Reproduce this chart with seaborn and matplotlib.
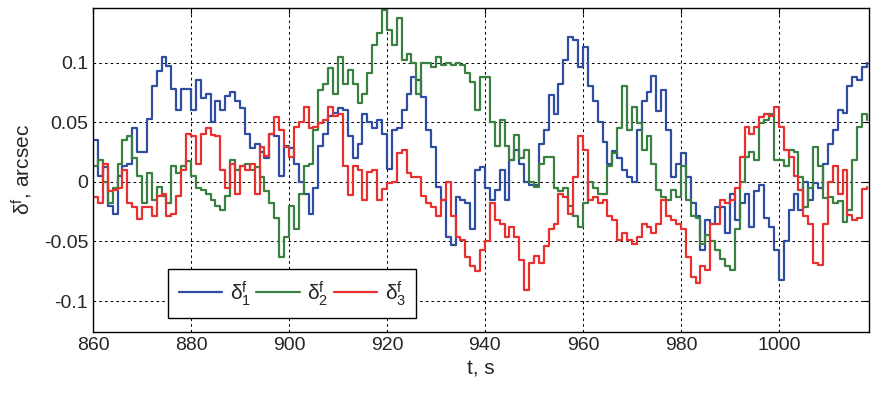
import numpy as np
import pandas as pd
import matplotlib
matplotlib.use("Agg")
import matplotlib.pyplot as plt
import seaborn as sns

# time axis, 1 s steps
t = np.arange(860, 1019)

# delta_1^f (blue)
delta1 = [
    0.035, 0.005, 0.012, -0.02, -0.027, 0.005, 0.013, 0.015, 0.045, 0.025,
    0.025, 0.053, 0.08, 0.093, 0.105, 0.097, 0.078, 0.06, 0.078, 0.078,
    0.06, 0.085, 0.07, 0.074, 0.05,
    0.068, 0.06, 0.072, 0.075, 0.068, 0.062, 0.04, 0.028, 0.032, 0.025,
    0.02, 0.04, 0.038, 0.005, 0.03, 0.028, 0.015, 0.0, -0.01, -0.027,
    -0.005, 0.03, 0.04, 0.055, 0.058, 0.062,
    0.06, 0.038, 0.02, 0.032, 0.057, 0.05, 0.045, 0.052, 0.04, 0.011,
    0.043, 0.045, 0.06, 0.074, 0.088, 0.085, 0.071, 0.043, 0.029, -0.004,
    -0.015, -0.046, -0.053, -0.013, -0.015, -0.018, -0.04,
    0.01, 0.012, -0.005, -0.015, -0.007, 0.01, -0.015, 0.018, 0.027, 0.015,
    0.0, -0.003, -0.003, 0.032, 0.043, 0.073, 0.057, 0.082, 0.102, 0.121,
    0.119, 0.096, 0.113, 0.08, 0.068, 0.05, 0.033,
    0.015, 0.026, 0.02, 0.01, 0.004, 0.0, 0.043, 0.068, 0.075, 0.089,
    0.059, 0.077, 0.043, 0.004, 0.015, 0.024, 0.004, -0.018, -0.029, -0.057,
    -0.032, -0.035, -0.021, -0.021, -0.043, -0.01,
    -0.032, -0.018, -0.01, -0.038, -0.008, -0.003, -0.03, -0.038, -0.057, -0.082,
    -0.05, -0.024, -0.01, -0.024, 0.0, -0.015, -0.001, -0.005, 0.015, 0.032,
    0.043, 0.06, 0.058, 0.08, 0.088, 0.085, 0.096, 0.1,
]

# delta_2^f (green)
delta2 = [
    0.013, 0.018, 0.0, -0.018, -0.005, 0.015, 0.035, 0.038, 0.02, 0.005,
    -0.018, 0.007, -0.015, -0.004, -0.012, -0.018, 0.013, 0.007, 0.013, 0.017,
    0.005, -0.005, -0.007, -0.01, -0.015,
    -0.02, -0.024, -0.012, 0.018, 0.01, 0.013, 0.015, 0.01, 0.012, 0.004,
    -0.008, -0.018, -0.03, -0.063, -0.046, -0.02, -0.04, -0.01, 0.013, 0.015,
    0.043, 0.077, 0.082, 0.095, 0.074, 0.105,
    0.082, 0.094, 0.082, 0.066, 0.074, 0.091, 0.115, 0.125, 0.144, 0.127,
    0.115, 0.137, 0.102, 0.107, 0.1, 0.074, 0.1, 0.1, 0.096, 0.105,
    0.098, 0.1, 0.098, 0.1, 0.098, 0.091, 0.084,
    0.06, 0.088, 0.088, 0.05, 0.03, 0.052, 0.03, 0.018, 0.039, 0.02,
    0.027, 0.0, -0.004, 0.015, 0.021, 0.021, -0.005, -0.008, -0.005, -0.02,
    -0.029, -0.038, -0.018, 0.0, -0.005, -0.01, -0.01,
    0.013, 0.024, 0.045, 0.08, 0.043, 0.063, 0.049, 0.027, 0.038, 0.015,
    -0.007, -0.013, -0.015, -0.007, -0.013, 0.013, -0.015, -0.029, -0.03, -0.052,
    -0.045, -0.05, -0.057, -0.065, -0.071, -0.074,
    -0.04, 0.0, 0.021, 0.025, 0.018, 0.049, 0.052, 0.057, 0.018, 0.018,
    0.013, 0.027, 0.025, 0.004, -0.021, -0.005, 0.029, 0.013, -0.014, -0.013,
    -0.018, -0.016, -0.034, -0.024, 0.018, 0.046, 0.057, 0.052,
]

# delta_3^f (red)
delta3 = [
    -0.013, -0.018, 0.015, -0.008, -0.007, -0.005, 0.01, -0.018, -0.021, -0.031,
    -0.021, -0.021, -0.029, -0.012, -0.01, -0.029, -0.027, -0.012, 0.01, 0.04,
    0.038, 0.015, 0.04, 0.045, 0.039,
    0.038, 0.01, -0.005, 0.015, -0.01, 0.013, 0.01, 0.015, -0.01, 0.029,
    0.022, 0.04, 0.054, 0.043, 0.029, 0.021, 0.046, 0.05, 0.063, 0.045,
    0.046, 0.049, 0.052, 0.063, 0.055, 0.057,
    0.013, -0.011, 0.013, 0.01, -0.015, 0.008, 0.01, -0.015, -0.006, -0.001,
    0.0, 0.024, 0.027, 0.007, 0.004, 0.004, -0.012, -0.018, -0.021, -0.029,
    -0.015, 0.0, -0.029, -0.046, -0.049, -0.063, -0.071,
    -0.075, -0.057, -0.05, -0.018, -0.032, -0.035, -0.046, -0.038, -0.046, -0.066,
    -0.091, -0.068, -0.062, -0.068, -0.054, -0.04, -0.035, -0.01, -0.013, -0.027,
    0.004, 0.038, 0.027, -0.015, -0.013, -0.018, -0.015,
    -0.029, -0.032, -0.049, -0.043, -0.049, -0.052, -0.046, -0.035, -0.038, -0.043,
    -0.035, -0.015, -0.029, -0.032, -0.035, -0.04, -0.063, -0.08, -0.085, -0.071,
    -0.074, -0.035, -0.035, -0.015, -0.018, -0.015,
    -0.005, 0.021, 0.046, 0.04, 0.046, 0.054, 0.057, 0.055, 0.063, 0.046,
    0.027, 0.021, 0.005, -0.007, -0.029, -0.035, -0.068, -0.07, -0.035, 0.0,
    0.013, -0.01, 0.01, -0.028, -0.032, -0.03, -0.006, -0.004,
]

labels = [r"$\delta^{f}_{1}$", r"$\delta^{f}_{2}$", r"$\delta^{f}_{3}$"]
colors = ["#2f4ea3", "#3a8040", "#e8302e"]
xticks = [860, 880, 900, 920, 940, 960, 980, 1000]
yticks = [-0.1, -0.05, 0, 0.05, 0.1]
ytick_labels = ["-0.1", "-0.05", "0", "0.05", "0.1"]

sns.set_style("white")
plt.rcParams["font.family"] = ["Liberation Sans", "DejaVu Sans"]
plt.rcParams["mathtext.fontset"] = "custom"
plt.rcParams["mathtext.rm"] = "Liberation Sans"
plt.rcParams["mathtext.it"] = "Liberation Sans"
plt.rcParams["mathtext.default"] = "regular"

fig = plt.figure(figsize=(8.8, 3.96), dpi=100)
ax = fig.add_axes([0.1057, 0.1616, 0.8818, 0.819])

for vals, col, lab in zip([delta1, delta2, delta3], colors, labels):
    sns.lineplot(x=t, y=vals, ax=ax, color=col, linewidth=1.6,
                 drawstyle="steps-post", estimator=None, label=lab)

ax.set_xlim(860, 1018.4)
ax.set_ylim(-0.126, 0.146)
ax.set_xticks(xticks)
ax.set_yticks(yticks)
ax.set_yticklabels(ytick_labels)
ax.tick_params(labelsize=14, direction="in", length=4, top=True, right=True,
               color="black")
ax.grid(True, color="black", linestyle=(0, (2.5, 3)), linewidth=0.75)
for sp in ax.spines.values():
    sp.set_color("black")
    sp.set_linewidth(1.0)

ax.set_xlabel("t, s", fontsize=15)
ax.set_ylabel(r"$\delta^{f}$, arcsec", fontsize=15, labelpad=6)

ax.legend(ncol=3, loc="lower left", bbox_to_anchor=(0.097, 0.043),
          frameon=True, fancybox=False, edgecolor="black", framealpha=1,
          handlelength=2.1, fontsize=15, borderaxespad=0, columnspacing=0.25,
          handletextpad=0.35, borderpad=0.5)

fig.savefig("out.png", dpi=100)
